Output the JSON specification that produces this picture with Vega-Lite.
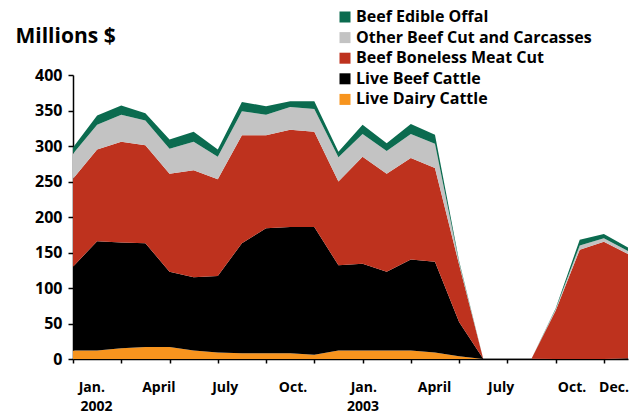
{
  "$schema": "https://vega.github.io/schema/vega-lite/v6.json",
  "width": 555,
  "height": 284,
  "autosize": {"type": "none"},
  "padding": {"left": 73, "top": 75, "right": 14, "bottom": 56},
  "background": "white",
  "view": {"stroke": null},
  "config": {
    "font": "Open Sans",
    "axis": {"labelFont": "Open Sans", "titleFont": "Open Sans"},
    "legend": {"labelFont": "Open Sans"}
  },
  "resolve": {"scale": {"y": "independent"}, "axis": {"y": "independent"}},
  "datasets": {
    "trade": [
      {"m":0,"s":"Live Dairy Cattle","o":1,"v":12},{"m":0,"s":"Live Beef Cattle","o":2,"v":118},{"m":0,"s":"Beef Boneless Meat Cut","o":3,"v":124},{"m":0,"s":"Other Beef Cut and Carcasses","o":4,"v":35},{"m":0,"s":"Beef Edible Offal","o":5,"v":9},
      {"m":1,"s":"Live Dairy Cattle","o":1,"v":12},{"m":1,"s":"Live Beef Cattle","o":2,"v":154},{"m":1,"s":"Beef Boneless Meat Cut","o":3,"v":129},{"m":1,"s":"Other Beef Cut and Carcasses","o":4,"v":35},{"m":1,"s":"Beef Edible Offal","o":5,"v":13},
      {"m":2,"s":"Live Dairy Cattle","o":1,"v":15},{"m":2,"s":"Live Beef Cattle","o":2,"v":149},{"m":2,"s":"Beef Boneless Meat Cut","o":3,"v":142},{"m":2,"s":"Other Beef Cut and Carcasses","o":4,"v":38},{"m":2,"s":"Beef Edible Offal","o":5,"v":13},
      {"m":3,"s":"Live Dairy Cattle","o":1,"v":17},{"m":3,"s":"Live Beef Cattle","o":2,"v":146},{"m":3,"s":"Beef Boneless Meat Cut","o":3,"v":138},{"m":3,"s":"Other Beef Cut and Carcasses","o":4,"v":35},{"m":3,"s":"Beef Edible Offal","o":5,"v":10},
      {"m":4,"s":"Live Dairy Cattle","o":1,"v":17},{"m":4,"s":"Live Beef Cattle","o":2,"v":106},{"m":4,"s":"Beef Boneless Meat Cut","o":3,"v":138},{"m":4,"s":"Other Beef Cut and Carcasses","o":4,"v":35},{"m":4,"s":"Beef Edible Offal","o":5,"v":13},
      {"m":5,"s":"Live Dairy Cattle","o":1,"v":12},{"m":5,"s":"Live Beef Cattle","o":2,"v":103},{"m":5,"s":"Beef Boneless Meat Cut","o":3,"v":151},{"m":5,"s":"Other Beef Cut and Carcasses","o":4,"v":40},{"m":5,"s":"Beef Edible Offal","o":5,"v":14},
      {"m":6,"s":"Live Dairy Cattle","o":1,"v":9},{"m":6,"s":"Live Beef Cattle","o":2,"v":108},{"m":6,"s":"Beef Boneless Meat Cut","o":3,"v":136},{"m":6,"s":"Other Beef Cut and Carcasses","o":4,"v":32},{"m":6,"s":"Beef Edible Offal","o":5,"v":10},
      {"m":7,"s":"Live Dairy Cattle","o":1,"v":8},{"m":7,"s":"Live Beef Cattle","o":2,"v":155},{"m":7,"s":"Beef Boneless Meat Cut","o":3,"v":152},{"m":7,"s":"Other Beef Cut and Carcasses","o":4,"v":34},{"m":7,"s":"Beef Edible Offal","o":5,"v":13},
      {"m":8,"s":"Live Dairy Cattle","o":1,"v":8},{"m":8,"s":"Live Beef Cattle","o":2,"v":176},{"m":8,"s":"Beef Boneless Meat Cut","o":3,"v":131},{"m":8,"s":"Other Beef Cut and Carcasses","o":4,"v":29},{"m":8,"s":"Beef Edible Offal","o":5,"v":12},
      {"m":9,"s":"Live Dairy Cattle","o":1,"v":8},{"m":9,"s":"Live Beef Cattle","o":2,"v":178},{"m":9,"s":"Beef Boneless Meat Cut","o":3,"v":137},{"m":9,"s":"Other Beef Cut and Carcasses","o":4,"v":32},{"m":9,"s":"Beef Edible Offal","o":5,"v":8},
      {"m":10,"s":"Live Dairy Cattle","o":1,"v":6},{"m":10,"s":"Live Beef Cattle","o":2,"v":180},{"m":10,"s":"Beef Boneless Meat Cut","o":3,"v":134},{"m":10,"s":"Other Beef Cut and Carcasses","o":4,"v":32},{"m":10,"s":"Beef Edible Offal","o":5,"v":11},
      {"m":11,"s":"Live Dairy Cattle","o":1,"v":12},{"m":11,"s":"Live Beef Cattle","o":2,"v":120},{"m":11,"s":"Beef Boneless Meat Cut","o":3,"v":118},{"m":11,"s":"Other Beef Cut and Carcasses","o":4,"v":34},{"m":11,"s":"Beef Edible Offal","o":5,"v":8},
      {"m":12,"s":"Live Dairy Cattle","o":1,"v":12},{"m":12,"s":"Live Beef Cattle","o":2,"v":122},{"m":12,"s":"Beef Boneless Meat Cut","o":3,"v":151},{"m":12,"s":"Other Beef Cut and Carcasses","o":4,"v":32},{"m":12,"s":"Beef Edible Offal","o":5,"v":13},
      {"m":13,"s":"Live Dairy Cattle","o":1,"v":12},{"m":13,"s":"Live Beef Cattle","o":2,"v":111},{"m":13,"s":"Beef Boneless Meat Cut","o":3,"v":138},{"m":13,"s":"Other Beef Cut and Carcasses","o":4,"v":32},{"m":13,"s":"Beef Edible Offal","o":5,"v":11},
      {"m":14,"s":"Live Dairy Cattle","o":1,"v":12},{"m":14,"s":"Live Beef Cattle","o":2,"v":128},{"m":14,"s":"Beef Boneless Meat Cut","o":3,"v":143},{"m":14,"s":"Other Beef Cut and Carcasses","o":4,"v":34},{"m":14,"s":"Beef Edible Offal","o":5,"v":14},
      {"m":15,"s":"Live Dairy Cattle","o":1,"v":9},{"m":15,"s":"Live Beef Cattle","o":2,"v":128},{"m":15,"s":"Beef Boneless Meat Cut","o":3,"v":132},{"m":15,"s":"Other Beef Cut and Carcasses","o":4,"v":34},{"m":15,"s":"Beef Edible Offal","o":5,"v":13},
      {"m":16,"s":"Live Dairy Cattle","o":1,"v":4},{"m":16,"s":"Live Beef Cattle","o":2,"v":48},{"m":16,"s":"Beef Boneless Meat Cut","o":3,"v":81},{"m":16,"s":"Other Beef Cut and Carcasses","o":4,"v":3},{"m":16,"s":"Beef Edible Offal","o":5,"v":2},
      {"m":17,"s":"Live Dairy Cattle","o":1,"v":0},{"m":17,"s":"Live Beef Cattle","o":2,"v":0.5},{"m":17,"s":"Beef Boneless Meat Cut","o":3,"v":0},{"m":17,"s":"Other Beef Cut and Carcasses","o":4,"v":0},{"m":17,"s":"Beef Edible Offal","o":5,"v":0},
      {"m":18,"s":"Live Dairy Cattle","o":1,"v":0},{"m":18,"s":"Live Beef Cattle","o":2,"v":0.5},{"m":18,"s":"Beef Boneless Meat Cut","o":3,"v":0},{"m":18,"s":"Other Beef Cut and Carcasses","o":4,"v":0},{"m":18,"s":"Beef Edible Offal","o":5,"v":0},
      {"m":19,"s":"Live Dairy Cattle","o":1,"v":0},{"m":19,"s":"Live Beef Cattle","o":2,"v":0.5},{"m":19,"s":"Beef Boneless Meat Cut","o":3,"v":0},{"m":19,"s":"Other Beef Cut and Carcasses","o":4,"v":0},{"m":19,"s":"Beef Edible Offal","o":5,"v":0},
      {"m":20,"s":"Live Dairy Cattle","o":1,"v":0},{"m":20,"s":"Live Beef Cattle","o":2,"v":0},{"m":20,"s":"Beef Boneless Meat Cut","o":3,"v":68},{"m":20,"s":"Other Beef Cut and Carcasses","o":4,"v":2},{"m":20,"s":"Beef Edible Offal","o":5,"v":1},
      {"m":21,"s":"Live Dairy Cattle","o":1,"v":0},{"m":21,"s":"Live Beef Cattle","o":2,"v":0},{"m":21,"s":"Beef Boneless Meat Cut","o":3,"v":154},{"m":21,"s":"Other Beef Cut and Carcasses","o":4,"v":6},{"m":21,"s":"Beef Edible Offal","o":5,"v":8},
      {"m":22,"s":"Live Dairy Cattle","o":1,"v":0},{"m":22,"s":"Live Beef Cattle","o":2,"v":0},{"m":22,"s":"Beef Boneless Meat Cut","o":3,"v":165},{"m":22,"s":"Other Beef Cut and Carcasses","o":4,"v":5},{"m":22,"s":"Beef Edible Offal","o":5,"v":6},
      {"m":23,"s":"Live Dairy Cattle","o":1,"v":0},{"m":23,"s":"Live Beef Cattle","o":2,"v":1},{"m":23,"s":"Beef Boneless Meat Cut","o":3,"v":147},{"m":23,"s":"Other Beef Cut and Carcasses","o":4,"v":4},{"m":23,"s":"Beef Edible Offal","o":5,"v":5}
    ],
    "months": [
      {"pos":0.78,"t":"Jan."},{"pos":3.56,"t":"April"},{"pos":6.31,"t":"July"},{"pos":9.12,"t":"Oct."},
      {"pos":12.05,"t":"Jan."},{"pos":14.98,"t":"April"},{"pos":17.74,"t":"July"},{"pos":20.68,"t":"Oct."},{"pos":22.42,"t":"Dec."}
    ],
    "years": [
      {"pos":0.97,"t":"2002"},{"pos":12.02,"t":"2003"}
    ]
  },
  "layer": [
    {
      "data": {"name": "trade"},
      "mark": {"type": "area", "interpolate": "linear"},
      "encoding": {
        "x": {
          "field": "m", "type": "quantitative",
          "scale": {"domain": [0, 23], "nice": false, "zero": false},
          "axis": {
            "values": [0,1,2,3,4,5,6,7,8,9,10,11,12,13,14,15,16,17,18,19,20,21,22,23],
            "labels": false, "title": null, "grid": false,
            "tickSize": 4, "tickWidth": 1.5, "tickColor": "#000000",
            "domainColor": "#000000", "domainWidth": 1.5
          }
        },
        "y": {
          "field": "v", "type": "quantitative", "stack": "zero",
          "scale": {"domain": [0, 400], "nice": false},
          "axis": {
            "values": [0,50,100,150,200,250,300,350,400],
            "grid": false, "tickSize": 5, "tickWidth": 1.5, "tickColor": "#000000",
            "domainColor": "#000000", "domainWidth": 1.5,
            "labelFontSize": 16, "labelFontWeight": "bold", "labelColor": "#000000", "labelPadding": 6,
            "labelOverlap": false,
            "title": "Millions $", "titleAngle": 0, "titleAlign": "left", "titleBaseline": "alphabetic",
            "titleX": -58, "titleY": -33, "titleFontSize": 21, "titleFontWeight": "bold", "titleColor": "#000000"
          }
        },
        "color": {
          "field": "s", "type": "nominal",
          "scale": {
            "domain": ["Beef Edible Offal", "Other Beef Cut and Carcasses", "Beef Boneless Meat Cut", "Live Beef Cattle", "Live Dairy Cattle"],
            "range": ["#0B6B4F", "#C3C3C3", "#BE321E", "#000000", "#F7941E"]
          },
          "legend": {
            "orient": "none", "legendX": 264, "legendY": -66, "title": null,
            "symbolType": "square", "symbolSize": 121, "symbolStrokeWidth": 0,
            "labelFontSize": 16, "labelFontWeight": "bold", "labelColor": "#000000",
            "labelOffset": 3, "rowPadding": 4.6, "padding": 0, "labelLimit": 0
          }
        },
        "order": {"field": "o", "type": "quantitative", "sort": "ascending"}
      }
    },
    {
      "data": {"name": "months"},
      "mark": {"type": "text", "fontSize": 14, "fontWeight": "bold", "font": "Open Sans", "color": "#000000", "baseline": "middle", "align": "center", "dy": 29},
      "encoding": {
        "x": {"field": "pos", "type": "quantitative"},
        "y": {"datum": 0, "type": "quantitative", "scale": {"domain": [0, 400], "nice": false}, "axis": null},
        "text": {"field": "t"}
      }
    },
    {
      "data": {"name": "years"},
      "mark": {"type": "text", "fontSize": 14, "fontWeight": "bold", "font": "Open Sans", "color": "#000000", "baseline": "middle", "align": "center", "dy": 48},
      "encoding": {
        "x": {"field": "pos", "type": "quantitative"},
        "y": {"datum": 0, "type": "quantitative", "scale": {"domain": [0, 400], "nice": false}, "axis": null},
        "text": {"field": "t"}
      }
    }
  ]
}
